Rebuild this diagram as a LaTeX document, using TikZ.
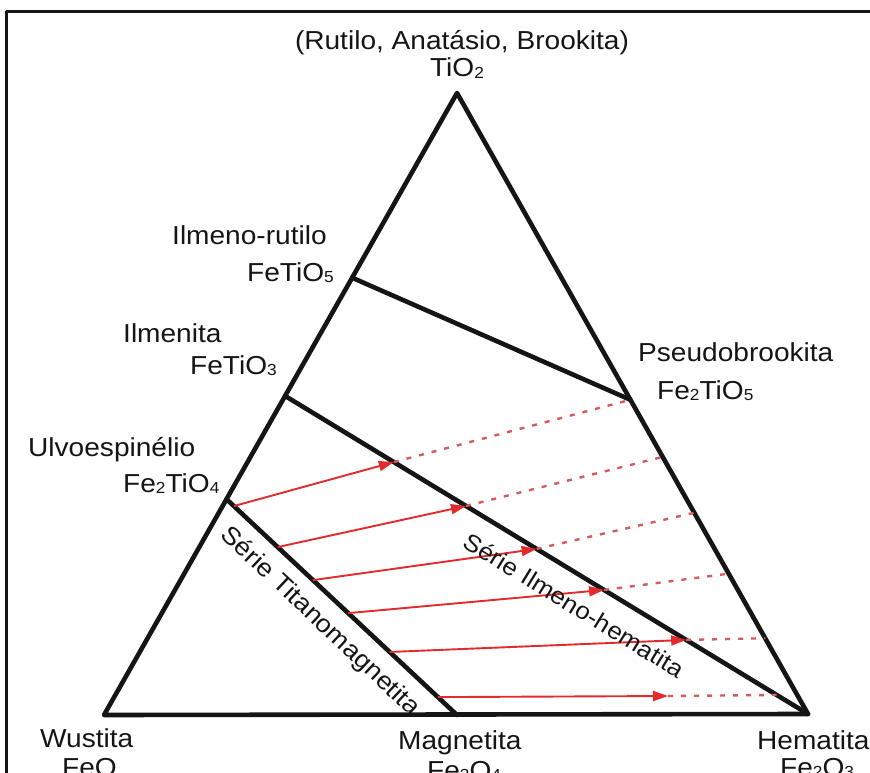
\documentclass[tikz,border=0pt]{standalone}
\usepackage{fontspec}
\setmainfont{Liberation Sans}[FakeStretch=1.08]
\usetikzlibrary{arrows.meta,calc}
\definecolor{ink}{HTML}{151515}
\definecolor{arrowred}{HTML}{E12B2D}
\definecolor{dotred}{HTML}{D65A5E}
\newcommand{\chem}[1]{\raisebox{-1.5pt}{\fontsize{16}{16}\selectfont#1}}
\tikzset{
  every picture/.style={line join=round, >={Triangle[length=15pt,width=10pt]}},
  frame/.style={line width=3pt, ink},
  edge/.style={line width=4.6pt, ink, line cap=round},
  shift arrow/.style={->, line width=1.9pt, arrowred},
  trail/.style={line width=2.4pt, dotred, dash pattern=on 5pt off 8pt},
  lbl/.style={font=\fontsize{26}{30}\selectfont, text=ink, inner sep=0pt, anchor=base west},
  serie/.style={text=ink, inner sep=0pt},
}

\begin{document}
\begin{tikzpicture}[x=1pt,y=-1pt]
\useasboundingbox (0,0) rectangle (870,773);
\fill[white] (0,0) rectangle (870,773);
\draw[frame] (6,12) rectangle (900,810);
\coordinate (T) at (457,93);
\coordinate (W) at (104,715);
\coordinate (H) at (808,714);
\coordinate (M) at (457,715);
\coordinate (U) at ($(W)!0.347!(T)$);
\coordinate (I) at ($(W)!0.513!(T)$);
\coordinate (R) at ($(W)!0.703!(T)$);
\coordinate (P) at ($(H)!0.506!(T)$);
\draw[edge] (T)--(W)--(H)--cycle;
\draw[edge] (R)--(P);
\draw[edge] (I)--(H);
\draw[edge] (U)--(M);
\foreach \k/\a/\b/\c in {1/0.032/0.208/0.506, 2/0.222/0.346/0.414, 3/0.375/0.481/0.324, 4/0.528/0.610/0.226, 5/0.708/0.767/0.122}{
  \coordinate (s\k) at ($(U)!\a!(M)$);
  \coordinate (e\k) at ($(I)!\b!(H)$);
  \coordinate (d\k) at ($(H)!\c!(T)$);
  \draw[trail] (e\k)--(d\k);
  \draw[shift arrow] (s\k)--(e\k);
}
\coordinate (s6) at ($(U)!0.917!(M)$);
\coordinate (e6) at (668,696);
\coordinate (d6) at ($(I)!0.94!(H)$);
\draw[trail] (e6)--(d6);
\draw[shift arrow] (s6)--(e6);
\node[lbl,anchor=base] (rutilo) at (462,50) {(Rutilo, Anatásio, Brookita)};
\node[lbl,anchor=base] (tio) at (457,77) {TiO\chem{2}};
\node[lbl] (irname) at (172,244) {Ilmeno-rutilo};
\node[lbl] (irformula) at (247,281) {FeTiO\chem{5}};
\node[lbl] (ilname) at (123,342) {Ilmenita};
\node[lbl] (ilformula) at (190,374) {FeTiO\chem{3}};
\node[lbl] (ulname) at (28,456) {Ulvoespinélio};
\node[lbl] (ulformula) at (123,492) {Fe\chem{2}TiO\chem{4}};
\node[lbl] (psname) at (638,361) {Pseudobrookita};
\node[lbl] (psformula) at (657,399) {Fe\chem{2}TiO\chem{5}};
\node[lbl] (wuname) at (40,747) {Wustita};
\node[lbl] (wuformula) at (62,776) {FeO};
\node[lbl] (mgname) at (398,749) {Magnetita};
\node[lbl] (mgformula) at (427,779) {Fe\chem{3}O\chem{4}};
\node[lbl] (hmname) at (757,749) {Hematita};
\node[lbl] (hmformula) at (780,776) {Fe\chem{2}O\chem{3}};
\node[serie,font=\fontsize{25}{30}\selectfont,rotate=-43.3] (titano) at (320,622) {Série Titanomagnetita};
\node[serie,font=\fontsize{24}{30}\selectfont,rotate=-31.5] (ilmhem) at (574,605) {Série Ilmeno-hematita};
\end{tikzpicture}
\end{document}
